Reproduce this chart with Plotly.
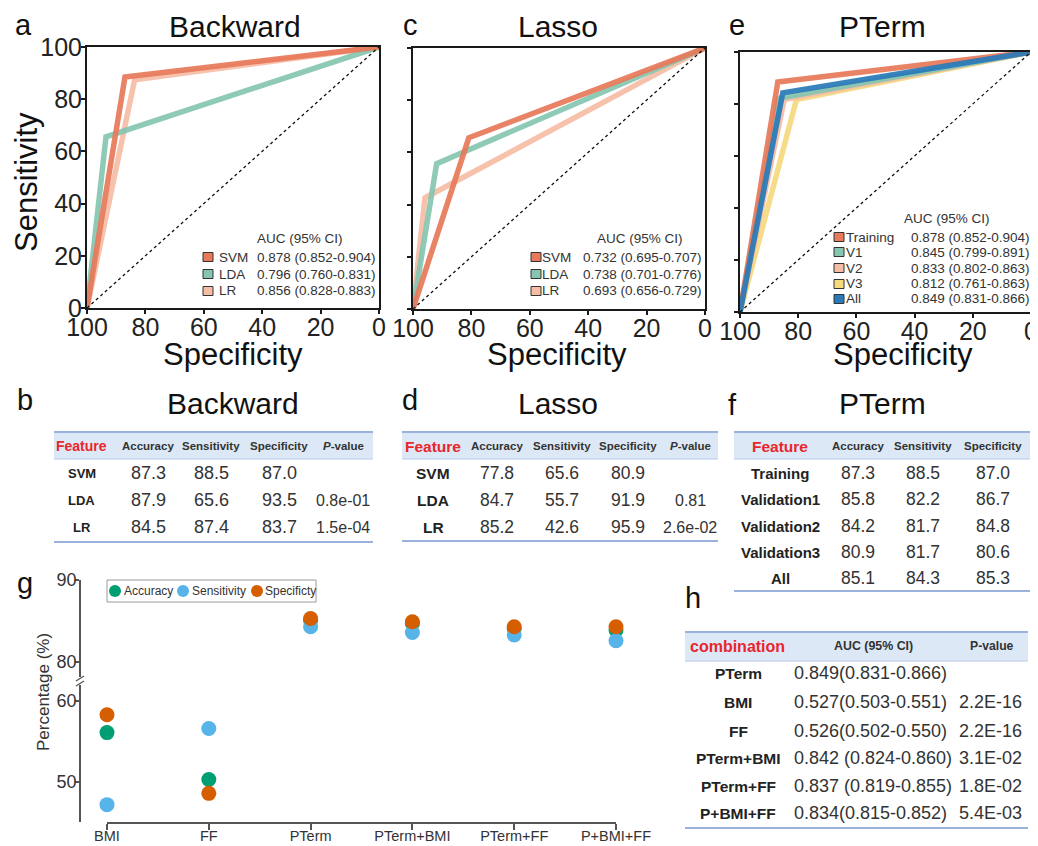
import plotly.graph_objects as go

# The page body has an 8px margin, so the figure is drawn 8px smaller and
# every page-pixel coordinate below is shifted by OFF.
OFF = 8
W, H = 1038 - OFF, 846 - OFF
FONT = "Liberation Sans, Arial, sans-serif"

# ---------------- data ----------------
backward_models = ["SVM", "LDA", "LR"]
backward_accuracy = [87.3, 87.9, 84.5]
backward_sensitivity = [88.5, 65.6, 87.4]
backward_specificity = [87.0, 93.5, 83.7]
backward_pvalue = ["", "0.8e-01", "1.5e-04"]
backward_auc = ["0.878 (0.852-0.904)", "0.796 (0.760-0.831)", "0.856 (0.828-0.883)"]

lasso_models = ["SVM", "LDA", "LR"]
lasso_accuracy = [77.8, 84.7, 85.2]
lasso_sensitivity = [65.6, 55.7, 42.6]
lasso_specificity = [80.9, 91.9, 95.9]
lasso_pvalue = ["", "0.81", "2.6e-02"]
lasso_auc = ["0.732 (0.695-0.707)", "0.738 (0.701-0.776)", "0.693 (0.656-0.729)"]

pterm_sets = ["Training", "Validation1", "Validation2", "Validation3", "All"]
pterm_legend = ["Training", "V1", "V2", "V3", "All"]
pterm_accuracy = [87.3, 85.8, 84.2, 80.9, 85.1]
pterm_sensitivity = [88.5, 82.2, 81.7, 81.7, 84.3]
pterm_specificity = [87.0, 86.7, 84.8, 80.6, 85.3]
pterm_auc = ["0.878 (0.852-0.904)", "0.845 (0.799-0.891)", "0.833 (0.802-0.863)",
             "0.812 (0.761-0.863)", "0.849 (0.831-0.866)"]

combo_names = ["PTerm", "BMI", "FF", "PTerm+BMI", "PTerm+FF", "P+BMI+FF"]
combo_auc = ["0.849(0.831-0.866)", "0.527(0.503-0.551)", "0.526(0.502-0.550)",
             "0.842 (0.824-0.860)", "0.837 (0.819-0.855)", "0.834(0.815-0.852)"]
combo_p = ["", "2.2E-16", "2.2E-16", "3.1E-02", "1.8E-02", "5.4E-03"]

g_categories = ["BMI", "FF", "PTerm", "PTerm+BMI", "PTerm+FF", "P+BMI+FF"]
g_accuracy = [56.1, 50.3, 85.1, 84.7, 84.1, 83.9]
g_sensitivity = [47.2, 56.6, 84.3, 83.6, 83.3, 82.6]
g_specificity = [58.3, 48.6, 85.3, 84.9, 84.3, 84.3]

# ---------------- styles ----------------
three_colors = ["#E8795A", "#86C6B1", "#F6BDA6"]
pterm_colors = ["#E8795A", "#86C6B1", "#F6BDA6", "#F6DA7E", "#2A7AB9"]
g_colors = {"Accuracy": "#009E73", "Sensitivity": "#56B4E9", "Specificity": "#D55E00"}


def fx(x):
    return (x - OFF) / W


def fy(y):
    return 1 - (y - OFF) / H


fig = go.Figure()
annotations = []
shapes = []


def txt(x, y, s, size, color="#222", xanchor="center", yanchor="middle", angle=0):
    annotations.append(dict(x=fx(x), y=fy(y), xref="paper", yref="paper", text=s,
                            showarrow=False, xanchor=xanchor, yanchor=yanchor,
                            textangle=angle,
                            font=dict(family=FONT, size=size, color=color)))


def hline(x0, x1, y, color, w):
    shapes.append(dict(type="line", xref="paper", yref="paper", x0=fx(x0), x1=fx(x1),
                       y0=fy(y), y1=fy(y), line=dict(color=color, width=w)))


def rect(x0, y0, x1, y1, fill, line_color=None, lw=0):
    shapes.append(dict(type="rect", xref="paper", yref="paper", x0=fx(x0), x1=fx(x1),
                       y0=fy(y1), y1=fy(y0), fillcolor=fill,
                       line=dict(color=line_color or fill, width=lw)))


# ---------------- ROC panels ----------------
def roc_trace(spec, sens, color, ax):
    return go.Scatter(x=[100, spec, 0], y=[0, sens, 100], mode="lines",
                      line=dict(color=color, width=5.5), opacity=0.92,
                      xaxis="x" + ax, yaxis="y" + ax, showlegend=False, hoverinfo="skip")


def diag(ax):
    return go.Scatter(x=[100, 0], y=[0, 100], mode="lines",
                      line=dict(color="#111", width=1.3, dash="dot"),
                      xaxis="x" + ax, yaxis="y" + ax, showlegend=False, hoverinfo="skip")


for i in [2, 1, 0]:
    fig.add_trace(roc_trace(backward_specificity[i], backward_sensitivity[i], three_colors[i], ""))
fig.add_trace(diag(""))
for i in [2, 1, 0]:
    fig.add_trace(roc_trace(lasso_specificity[i], lasso_sensitivity[i], three_colors[i], "2"))
fig.add_trace(diag("2"))
for i in [3, 2, 1, 0, 4]:
    fig.add_trace(roc_trace(pterm_specificity[i], pterm_sensitivity[i], pterm_colors[i], "3"))
fig.add_trace(diag("3"))

roc_boxes = {"": (87, 379, 47, 308), "2": (413, 705, 48, 309), "3": (740, 1031, 52, 312)}
layout_axes = {}
for ax, (x0, x1, y0, y1) in roc_boxes.items():
    layout_axes["xaxis" + ax] = dict(
        domain=[fx(x0), fx(x1)], range=[100, 0], anchor="y" + ax, automargin=False,
        showline=True, mirror=True, linecolor="#1a1a1a", linewidth=2,
        ticks="outside", ticklen=4, tickwidth=1.5, tickcolor="#1a1a1a",
        ticklabelstandoff=-8,
        tickvals=[100, 80, 60, 40, 20, 0], tickfont=dict(family=FONT, size=25, color="#222"),
        showgrid=False, zeroline=False)
    layout_axes["yaxis" + ax] = dict(
        domain=[fy(y1), fy(y0)], range=[0, 100], anchor="x" + ax, automargin=False,
        showline=True, mirror=True, linecolor="#1a1a1a", linewidth=2,
        ticks="outside", ticklen=4, tickwidth=1.5, tickcolor="#1a1a1a",
        ticklabelstandoff=-6,
        tickvals=[0, 20, 40, 60, 80, 100], showticklabels=(ax == ""),
        tickfont=dict(family=FONT, size=25, color="#222"),
        showgrid=False, zeroline=False)

# titles / letters
txt(23, 25, "a", 29, "#111")
txt(235, 27, "Backward", 30, "#111")
txt(410, 25, "c", 29, "#111")
txt(558, 27, "Lasso", 30, "#111")
txt(737, 25, "e", 29, "#111")
txt(882, 27, "PTerm", 30, "#111")
txt(27, 182, "Sensitivity", 31, "#111", angle=-90)
txt(233, 354, "Specificity", 31, "#111")
txt(557, 354, "Specificity", 31, "#111")
txt(903, 354, "Specificity", 31, "#111")


def legend_block(header_xy, sq_x, label_x, value_x, rows_y, labels, values, colors):
    txt(header_xy[0], header_xy[1], "AUC (95% CI)", 13.5, "#333")
    for yy, lab, val, col in zip(rows_y, labels, values, colors):
        rect(sq_x - 5, yy - 4.5, sq_x + 5, yy + 4.5, col, "#333", 1)
        txt(label_x, yy, lab, 13.5, "#333", xanchor="left")
        txt(value_x, yy, val, 13.5, "#333", xanchor="right")


legend_block((300, 238), 208, 217, 378, [257, 274, 291], backward_models, backward_auc, three_colors)
legend_block((640, 238), 536, 540, 704, [257, 274, 291], lasso_models, lasso_auc, three_colors)
legend_block((947, 218), 839, 844, 1032, [237, 252, 268, 284, 299], pterm_legend, pterm_auc, pterm_colors)

# ---------------- tables ----------------
BAND = "#DCE8F5"
BLUE_LINE = "#9AB3DD"
RED = "#E8262C"


def table_frame(x0, x1, top, band_bottom, bottom):
    rect(x0, top, x1, band_bottom, BAND)
    hline(x0, x1, top, BLUE_LINE, 2)
    hline(x0, x1, band_bottom, "#B5C9E8", 1.2)
    hline(x0, x1, bottom, BLUE_LINE, 2)


# table b
txt(25, 400, "b", 29, "#111")
txt(233, 403, "Backward", 30, "#111")
table_frame(54, 373, 432, 459, 542)
cols_b = [82, 148, 211, 279, 343]
txt(cols_b[0], 446, "<b>Feature</b>", 14, RED)
for cx, h in zip(cols_b[1:], ["Accuracy", "Sensitivity", "Specificity", "<i>P</i>-value"]):
    txt(cx, 446, "<b>" + h + "</b>", 11.5, "#333")
for i, yy in enumerate([473, 500, 527]):
    txt(cols_b[0], yy, "<b>" + backward_models[i] + "</b>", 13, "#222")
    txt(cols_b[1], yy, f"{backward_accuracy[i]:.1f}", 18, "#333")
    txt(cols_b[2], yy, f"{backward_sensitivity[i]:.1f}", 18, "#333")
    txt(cols_b[3], yy, f"{backward_specificity[i]:.1f}", 18, "#333")
    txt(cols_b[4], yy, backward_pvalue[i], 16, "#333")

# table d
txt(410, 400, "d", 29, "#111")
txt(558, 403, "Lasso", 30, "#111")
table_frame(402, 718, 432, 459, 541)
cols_d = [433, 497, 562, 628, 690]
txt(cols_d[0], 446, "<b>Feature</b>", 15.5, RED)
for cx, h in zip(cols_d[1:], ["Accuracy", "Sensitivity", "Specificity", "<i>P</i>-value"]):
    txt(cx, 446, "<b>" + h + "</b>", 11.5, "#333")
for i, yy in enumerate([473, 500, 527]):
    txt(cols_d[0], yy, "<b>" + lasso_models[i] + "</b>", 15.5, "#222")
    txt(cols_d[1], yy, f"{lasso_accuracy[i]:.1f}", 17.5, "#333")
    txt(cols_d[2], yy, f"{lasso_sensitivity[i]:.1f}", 17.5, "#333")
    txt(cols_d[3], yy, f"{lasso_specificity[i]:.1f}", 17.5, "#333")
    txt(cols_d[4], yy, lasso_pvalue[i], 16, "#333")

# table f
txt(732, 405, "f", 29, "#111")
txt(882, 403, "PTerm", 30, "#111")
table_frame(734, 1030, 432, 459, 591)
cols_f = [780, 858, 923, 993]
txt(cols_f[0], 446, "<b>Feature</b>", 15.5, RED)
for cx, h in zip(cols_f[1:], ["Accuracy", "Sensitivity", "Specificity"]):
    txt(cx, 446, "<b>" + h + "</b>", 11.5, "#333")
for i, yy in enumerate([473, 499, 526, 552, 578]):
    txt(cols_f[0], yy, "<b>" + pterm_sets[i] + "</b>", 15, "#222")
    txt(cols_f[1], yy, f"{pterm_accuracy[i]:.1f}", 17.5, "#333")
    txt(cols_f[2], yy, f"{pterm_sensitivity[i]:.1f}", 17.5, "#333")
    txt(cols_f[3], yy, f"{pterm_specificity[i]:.1f}", 17.5, "#333")

# table h
txt(693, 598, "h", 29, "#111")
table_frame(685, 1028, 632, 661, 828)
txt(737, 646, "<b>combination</b>", 16, RED)
txt(873, 646, "<b>AUC (95% CI)</b>", 12.4, "#333")
txt(992, 646, "<b>P-value</b>", 12.2, "#333")
for i, yy in enumerate([673, 702, 731, 758, 786, 813]):
    txt(738, yy, "<b>" + combo_names[i] + "</b>", 15.5, "#222")
    txt(792, yy, combo_auc[i], 18, "#333", xanchor="left")
    txt(957, yy, combo_p[i], 18, "#333", xanchor="left")

# ---------------- panel g (broken y axis) ----------------
txt(25, 583, "g", 29, "#111")
metric_series = [("Accuracy", g_accuracy), ("Sensitivity", g_sensitivity), ("Specificity", g_specificity)]
for name, vals in metric_series:
    low = [v if v < 70 else None for v in vals]
    high = [v if v >= 70 else None for v in vals]
    for ys, ax in [(low, "4"), (high, "5")]:
        fig.add_trace(go.Scatter(x=g_categories, y=ys, mode="markers",
                                 marker=dict(color=g_colors[name], size=15, line=dict(width=0)),
                                 xaxis="x" + ax, yaxis="y" + ax, cliponaxis=False,
                                 showlegend=False, name=name))

AX_G = "#555"
layout_axes["xaxis4"] = dict(domain=[fx(107), fx(616)], type="category", range=[0, 5],
                             anchor="y4", automargin=False, showline=True, linecolor=AX_G,
                             linewidth=1.5, ticks="outside", ticklen=6, tickwidth=1.5,
                             tickcolor=AX_G, ticklabelstandoff=-6,
                             tickfont=dict(family=FONT, size=14.5, color="#333"),
                             showgrid=False, zeroline=False)
layout_axes["xaxis5"] = dict(domain=[fx(107), fx(616)], type="category", range=[0, 5],
                             anchor="y5", matches="x4", automargin=False, showline=False,
                             ticks="", showticklabels=False, showgrid=False, zeroline=False)
layout_axes["yaxis4"] = dict(domain=[fy(822), fy(685)], range=[45.06, 61.98], anchor="free",
                             position=fx(80), automargin=False, showline=True, linecolor=AX_G,
                             linewidth=1.5, ticks="outside", ticklen=4, tickwidth=1.5,
                             tickcolor=AX_G, tickvals=[50, 60], ticklabelstandoff=-5,
                             tickfont=dict(family=FONT, size=18, color="#333"),
                             showgrid=False, zeroline=False)
layout_axes["yaxis5"] = dict(domain=[fy(677), fy(580)], range=[78.17, 90], anchor="free",
                             position=fx(80), automargin=False, showline=True, linecolor=AX_G,
                             linewidth=1.5, ticks="outside", ticklen=4, tickwidth=1.5,
                             tickcolor=AX_G, tickvals=[80, 90], ticklabelstandoff=-5,
                             tickfont=dict(family=FONT, size=18, color="#333"),
                             showgrid=False, zeroline=False)

# break marks on y axis
for yy in [678.5, 683.5]:
    shapes.append(dict(type="line", xref="paper", yref="paper", x0=fx(76), x1=fx(84),
                       y0=fy(yy + 2.5), y1=fy(yy - 2.5), line=dict(color=AX_G, width=1.3)))

txt(43, 692, "Percentage (%)", 17, "#333", angle=-90)

# legend for g
rect(107, 580, 316, 602, "rgba(0,0,0,0)", "#9a9a9a", 1)
for (cx, tx, lab, key) in [(115, 122, "Accuracy", "Accuracy"),
                           (183, 190, "Sensitivity", "Sensitivity"),
                           (257, 263, "Specificty", "Specificity")]:
    shapes.append(dict(type="circle", xref="paper", yref="paper",
                       x0=fx(cx - 6), x1=fx(cx + 6), y0=fy(591 + 6), y1=fy(591 - 6),
                       fillcolor=g_colors[key], line=dict(width=0)))
    txt(tx, 591, lab, 12, "#333", xanchor="left")

fig.update_layout(
    width=W, height=H, margin=dict(l=0, r=0, t=0, b=0, autoexpand=False),
    paper_bgcolor="white", plot_bgcolor="rgba(0,0,0,0)",
    font=dict(family=FONT, color="#222"),
    annotations=annotations, shapes=shapes, showlegend=False,
    **layout_axes)

fig.write_html("out.html", config={"displayModeBar": False})
